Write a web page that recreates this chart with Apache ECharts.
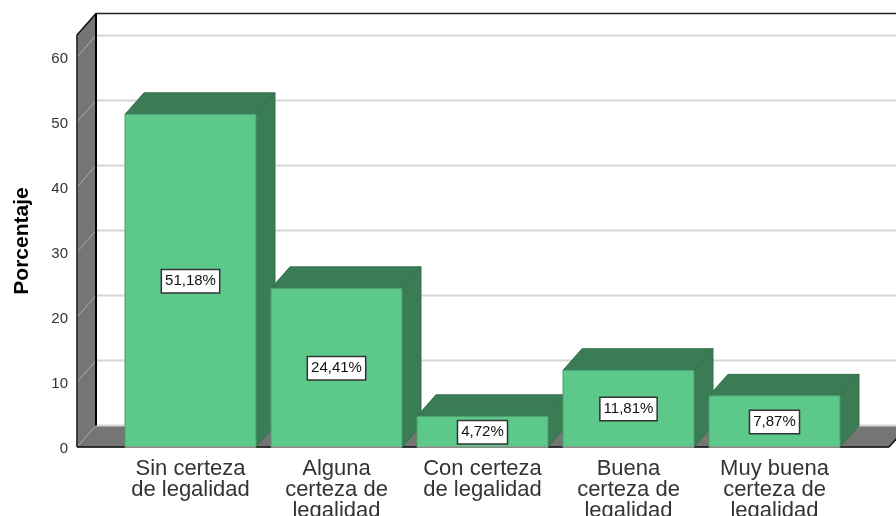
<!DOCTYPE html>
<html><head><meta charset="utf-8">
<style>html,body{margin:0;padding:0;background:#fff}#c{width:896px;height:516px}</style>
<script src="https://cdn.jsdelivr.net/npm/echarts@6/dist/echarts.min.js"></script>
</head><body><div id="c"></div>
<script>
const categories = ['Sin certeza\nde legalidad','Alguna\ncerteza de\nlegalidad','Con certeza\nde legalidad','Buena\ncerteza de\nlegalidad','Muy buena\ncerteza de\nlegalidad'];
const values = [51.18, 24.41, 4.72, 11.81, 7.87];
const yTicks = [0, 10, 20, 30, 40, 50, 60];
const wallTop = 63.4;

const DX = 19, DY = -21.5, BARFRAC = 131/146;
const PAD_L = 40.5, PAD_R = 41.5;
const poly = (points, fill, stroke, lw) => ({type:'polygon', shape:{points}, style:{fill, stroke:stroke||fill, lineWidth:lw===undefined?1:lw}});
const line = (x1,y1,x2,y2,stroke,lw) => ({type:'line', shape:{x1,y1,x2,y2}, style:{stroke, lineWidth:lw}});

function renderWalls(params, api){
  const step = api.size([1,0])[0];
  const p0 = api.coord([0,0]);
  const pN = api.coord([categories.length-1,0]);
  const x0 = p0[0]-step/2-PAD_L, y0 = p0[1];
  const xR = pN[0]+step/2+PAD_R;
  const yT = api.coord([0,wallTop])[1];
  const wall = '#757575', ch = [];
  ch.push(poly([[x0+DX,y0+DY],[xR+DX,y0+DY],[xR,y0],[x0,y0]], wall));
  ch.push(poly([[x0,y0],[x0,yT],[x0+DX,yT+DY],[x0+DX,y0+DY]], wall));
  yTicks.forEach(t=>{
    const y = api.coord([0,t])[1];
    ch.push(line(x0+DX,y+DY,xR+DX,y+DY,'#d6d6d6',2));
    ch.push(line(x0,y,x0+DX,y+DY,'#ababab',1));
  });
  ch.push(line(x0,y0,x0,yT,'#222',1.5));
  ch.push(line(x0,yT,x0+DX,yT+DY,'#111',1.5));
  ch.push(line(x0+DX,yT+DY,x0+DX,y0+DY,'#000',2));
  ch.push(line(x0+DX,yT+DY,xR+DX,yT+DY,'#222',1.5));
  ch.push(line(x0,y0,xR,y0,'#111',1.5));
  ch.push(line(xR,y0,xR+DX,y0+DY,'#111',1.5));
  return {type:'group', children:ch};
}

function renderBar(params, api){
  const c = api.coord([api.value(0), api.value(1)]);
  const b = api.coord([api.value(0), 0]);
  const w = api.size([1,0])[0]*BARFRAC;
  const l = c[0]-w/2, r = c[0]+w/2, t = c[1], y0 = b[1];
  const front = '#5cc98b', dark = '#3a7d55', edge = '#4a9e6e';
  return {type:'group', children:[
    poly([[r,t],[r+DX,t+DY],[r+DX,y0+DY],[r,y0]], dark, '#35704d'),
    poly([[l,t],[l+DX,t+DY],[r+DX,t+DY],[r,t]], dark, '#35704d'),
    {type:'rect', shape:{x:l,y:t,width:w,height:y0-t}, style:{fill:front, stroke:edge, lineWidth:1}},
    line(l,y0,r,y0,'#9a9a9a',1.5)
  ]};
}

function renderLabel(params, api){
  const c = api.coord([api.value(0), api.value(1)/2]);
  const txt = api.value(1).toFixed(2).replace('.',',')+'%';
  return {type:'text', z2:10, style:{
    x:c[0], y:c[1]+0.5, text:txt, align:'center', verticalAlign:'middle',
    fill:'#111', font:'15px "Liberation Sans", Arial, sans-serif',
    backgroundColor:'#fff', borderColor:'#333', borderWidth:1.5, padding:[3.5,3,3.5,3]
  }};
}

const barData = values.map((v,i)=>[i,v]);
const chart = echarts.init(document.getElementById('c'), null, {renderer:'canvas'});
chart.setOption({
  backgroundColor:'#fff',
  animation:false,
  textStyle:{fontFamily:'"Liberation Sans", Arial, sans-serif'},
  grid:{left:117.5, right:896-847.5, top:57, bottom:69, containLabel:false, outerBoundsMode:'none'},
  xAxis:{type:'category', data:categories,
    axisLine:{show:false}, axisTick:{show:false}, splitLine:{show:false},
    axisLabel:{interval:0, margin:11.5, fontSize:22, lineHeight:21, color:'#333', fontFamily:'"Liberation Sans", Arial, sans-serif', verticalAlign:'top', hideOverlap:false}
  },
  yAxis:{type:'value', min:0, max:60, interval:10,
    axisLine:{show:false}, axisTick:{show:false}, splitLine:{show:false},
    axisLabel:{show:true, margin:49.5, fontSize:15, lineHeight:4, verticalAlign:'top', color:'#333', fontFamily:'"Liberation Sans", Arial, sans-serif'},
    name:'Porcentaje', nameLocation:'middle', nameGap:85, nameRotate:90, nameMoveOverlap:false,
    nameTextStyle:{fontSize:21, fontWeight:'bold', color:'#000', padding:[0,0,0,22], fontFamily:'"Liberation Sans", Arial, sans-serif'}
  },
  series:[
    {type:'custom', silent:true, clip:false, z:1, renderItem:renderWalls, data:[[0,0]], encode:{x:0,y:1}},
    {type:'custom', silent:true, clip:false, z:2, renderItem:renderBar, data:barData, encode:{x:0,y:1}},
    {type:'custom', silent:true, clip:false, z:3, renderItem:renderLabel, data:barData, encode:{x:0,y:1}}
  ]
});
</script></body></html>
